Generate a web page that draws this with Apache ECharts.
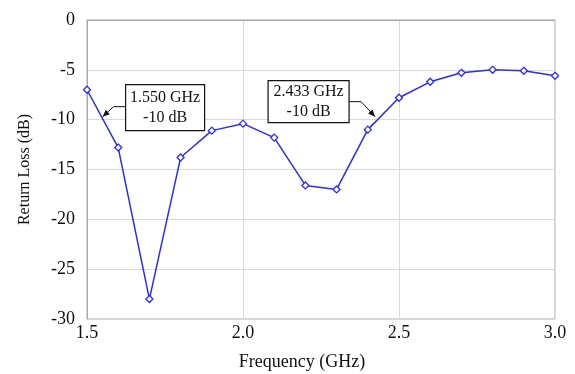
<!DOCTYPE html>
<html><head><meta charset="utf-8">
<script src="https://cdn.jsdelivr.net/npm/echarts@6/dist/echarts.min.js"></script>
<style>html,body{margin:0;padding:0;background:#fff}#c{width:575px;height:374px}</style>
</head><body><div id="c"></div>
<script>
const freqs = [1.5,1.6,1.7,1.8,1.9,2.0,2.1,2.2,2.3,2.4,2.5,2.6,2.7,2.8,2.9,3.0];
const returnLoss = [-7.0,-12.8,-28.0,-13.8,-11.1,-10.4,-11.8,-16.6,-17.0,-11.0,-7.8,-6.2,-5.3,-5.0,-5.1,-5.6];
const annotations = [
  {f:1.550, v:-10, label:['1.550 GHz','-10 dB'], side:'right'},
  {f:2.433, v:-10, label:['2.433 GHz','-10 dB'], side:'left'}
];
const font = '"Liberation Serif","DejaVu Serif",serif';
const chart = echarts.init(document.getElementById('c'));
chart.setOption({
  animation:false,
  grid:{left:87,right:20,top:20,bottom:55,show:true,borderColor:'#a8a8a8',borderWidth:1,outerBoundsMode:'none',containLabel:false},
  xAxis:{type:'value',min:1.5,max:3.0,interval:0.5,name:'Frequency (GHz)',nameLocation:'middle',nameGap:34,
    nameTextStyle:{fontFamily:font,fontSize:18,color:'#111',padding:[0,38,0,0]},
    axisLine:{lineStyle:{color:'#a8a8a8'}},axisTick:{show:false},
    axisLabel:{fontFamily:font,fontSize:18,color:'#111',margin:5,formatter:v=>v.toFixed(1)},
    splitLine:{lineStyle:{color:'#dadada'}}},
  yAxis:{type:'value',min:-30,max:0,interval:5,name:'Return Loss (dB)',nameLocation:'middle',nameGap:54,
    nameTextStyle:{fontFamily:font,fontSize:16,color:'#111'},
    axisLine:{lineStyle:{color:'#a8a8a8'}},axisTick:{show:false},
    axisLabel:{fontFamily:font,fontSize:18,color:'#111',margin:12},
    splitLine:{lineStyle:{color:'#dadada'}}},
  series:[{type:'line',data:freqs.map((f,i)=>[f,returnLoss[i]]),
    lineStyle:{color:'#2a2aff',width:1.5},
    symbol:'diamond',symbolSize:7,itemStyle:{color:'#ffffff',borderColor:'#2a2aff',borderWidth:1.3}}]
});
function drawAnn(){
  const els=[];
  annotations.forEach(a=>{
    const p=chart.convertToPixel({gridIndex:0},[a.f,a.v]);
    let bx,by,bw,bh,ax,ay,kx;
    if(a.side==='right'){bw=79;bh=46;bx=p[0]+23;by=p[1]-35;ay=by+22;ax=bx;kx=bx-12;}
    else{bw=81;bh=42;bx=p[0]-110;by=p[1]-39;ay=by+21;ax=bx+bw;kx=ax+12;}
    els.push({type:'rect',shape:{x:bx,y:by,width:bw,height:bh},style:{fill:'#fff',stroke:'#111',lineWidth:1.2},z:10});
    els.push({type:'text',style:{text:a.label.join('\n'),x:bx+bw/2,y:by+bh/2,align:'center',verticalAlign:'middle',font:'16px '+font,fill:'#111',lineHeight:20},z:11});
    const tx=p[0]+(a.side==='right'?0:-3), ty=p[1]-3;
    els.push({type:'polyline',shape:{points:[[ax,ay],[kx,ay],[tx,ty]]},style:{stroke:'#111',lineWidth:1,fill:null},z:10});
    const ang=Math.atan2(ty-ay,tx-kx), L=7, W=3;
    const bxp=tx-L*Math.cos(ang), byp=ty-L*Math.sin(ang);
    els.push({type:'polygon',shape:{points:[[tx,ty],[bxp+W*Math.sin(ang),byp-W*Math.cos(ang)],[bxp-W*Math.sin(ang),byp+W*Math.cos(ang)]]},style:{fill:'#111'},z:10});
  });
  chart.setOption({graphic:els});
}
drawAnn();
</script></body></html>
